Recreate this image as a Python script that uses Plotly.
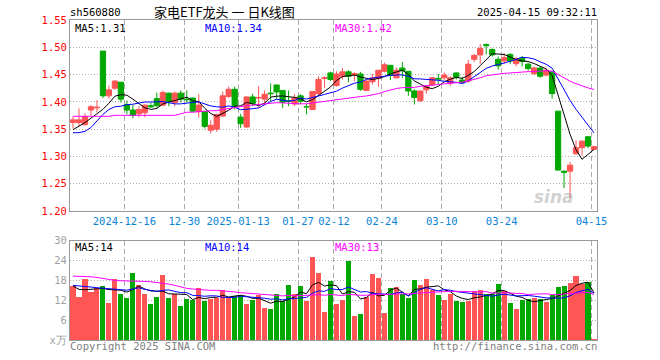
import plotly.graph_objects as go
import pandas as pd

# ---------------- data ----------------
holidays = ["2025-01-01", "2025-01-28", "2025-01-29", "2025-01-30", "2025-01-31",
            "2025-02-03", "2025-02-04", "2025-04-04"]

opens = [1.362, 1.362, 1.358, 1.385, 1.389, 1.493, 1.411, 1.425, 1.436, 1.395,
         1.385, 1.378, 1.380, 1.393, 1.406, 1.394, 1.416, 1.399, 1.416, 1.405,
         1.407, 1.382, 1.382, 1.348, 1.350, 1.374, 1.410, 1.423, 1.372, 1.354,
         1.409, 1.407, 1.405, 1.416, 1.431, 1.421, 1.402, 1.396, 1.411, 1.391,
         1.386, 1.415, 1.443, 1.453, 1.430, 1.447, 1.455, 1.449, 1.451, 1.421,
         1.437, 1.443, 1.456, 1.467, 1.444, 1.462, 1.456, 1.420, 1.402, 1.422,
         1.431, 1.443, 1.444, 1.434, 1.453, 1.440, 1.438, 1.478, 1.486, 1.505,
         1.496, 1.478, 1.475, 1.487, 1.470, 1.480, 1.469, 1.452, 1.462, 1.449,
         1.455, 1.383, 1.273, 1.273, 1.305, 1.316, 1.336, 1.313]
highs = [1.373, 1.388, 1.379, 1.394, 1.403, 1.493, 1.430, 1.440, 1.436, 1.402,
         1.395, 1.392, 1.395, 1.398, 1.417, 1.421, 1.417, 1.419, 1.421, 1.421,
         1.408, 1.414, 1.383, 1.366, 1.378, 1.419, 1.428, 1.428, 1.378, 1.410,
         1.415, 1.429, 1.421, 1.434, 1.431, 1.421, 1.421, 1.414, 1.414, 1.396,
         1.419, 1.447, 1.447, 1.455, 1.456, 1.462, 1.458, 1.454, 1.455, 1.441,
         1.451, 1.458, 1.472, 1.467, 1.463, 1.473, 1.456, 1.423, 1.420, 1.431,
         1.446, 1.451, 1.454, 1.447, 1.454, 1.446, 1.477, 1.488, 1.506, 1.507,
         1.498, 1.483, 1.489, 1.489, 1.482, 1.484, 1.472, 1.465, 1.464, 1.463,
         1.457, 1.383, 1.274, 1.290, 1.330, 1.329, 1.337, 1.319]
lows = [1.351, 1.355, 1.357, 1.375, 1.381, 1.407, 1.406, 1.422, 1.399, 1.377,
        1.370, 1.372, 1.372, 1.389, 1.389, 1.392, 1.392, 1.392, 1.399, 1.399,
        1.382, 1.371, 1.351, 1.342, 1.345, 1.373, 1.407, 1.386, 1.352, 1.352,
        1.392, 1.389, 1.396, 1.401, 1.405, 1.389, 1.392, 1.392, 1.396, 1.377,
        1.385, 1.413, 1.425, 1.438, 1.428, 1.441, 1.436, 1.438, 1.420, 1.420,
        1.432, 1.428, 1.454, 1.440, 1.443, 1.444, 1.411, 1.395, 1.400, 1.415,
        1.429, 1.432, 1.439, 1.429, 1.441, 1.433, 1.435, 1.473, 1.470, 1.487,
        1.483, 1.459, 1.469, 1.469, 1.465, 1.465, 1.457, 1.449, 1.444, 1.447,
        1.406, 1.274, 1.242, 1.224, 1.303, 1.301, 1.315, 1.312]
closes = [1.367, 1.367, 1.373, 1.391, 1.390, 1.411, 1.422, 1.438, 1.405, 1.385,
          1.375, 1.386, 1.394, 1.391, 1.393, 1.417, 1.401, 1.416, 1.405, 1.404,
          1.383, 1.394, 1.355, 1.357, 1.377, 1.411, 1.423, 1.392, 1.360, 1.409,
          1.397, 1.408, 1.414, 1.415, 1.418, 1.399, 1.401, 1.408, 1.401, 1.391,
          1.419, 1.441, 1.444, 1.441, 1.451, 1.455, 1.447, 1.452, 1.423, 1.438,
          1.444, 1.458, 1.468, 1.449, 1.458, 1.457, 1.420, 1.408, 1.420, 1.429,
          1.444, 1.442, 1.449, 1.444, 1.445, 1.435, 1.469, 1.485, 1.498, 1.503,
          1.486, 1.466, 1.481, 1.475, 1.479, 1.474, 1.461, 1.462, 1.447, 1.458,
          1.415, 1.275, 1.271, 1.284, 1.316, 1.328, 1.319, 1.318]
volumes = [16.4, 13.0, 18.5, 14.6, 15.6, 16.2, 11.3, 18.3, 13.8, 12.8,
           20.1, 16.5, 13.8, 10.8, 13.1, 19.5, 12.6, 13.8, 10.2, 12.5,
           12.0, 15.8, 11.8, 12.3, 12.6, 15.2, 13.0, 13.3, 13.5, 11.0,
           12.0, 13.5, 9.8, 9.3, 14.0, 11.7, 16.5, 13.8, 16.3, 11.8,
           25.0, 20.1, 8.4, 17.8, 11.0, 12.0, 24.0, 7.2, 7.8, 13.0,
           19.9, 18.7, 8.1, 15.7, 16.0, 13.9, 12.7, 18.1, 16.6, 18.4,
           15.1, 13.6, 12.1, 13.9, 11.8, 11.5, 11.8, 14.8, 15.1, 13.9,
           13.9, 16.9, 14.8, 11.2, 9.4, 12.1, 12.4, 12.7, 12.4, 11.5,
           13.6, 16.0, 16.3, 17.2, 19.3, 16.9, 17.5, 0.3]

# moving-average values before a full window exists
ma5_head = [1.349, 1.355, 1.362, 1.370]
ma10_head = [1.3435, 1.3435, 1.346, 1.353, 1.365, 1.377, 1.386, 1.391, 1.392]
ma30_head = [1.3735, 1.3735, 1.3735, 1.3735, 1.3735, 1.3735, 1.3735, 1.3753, 1.3753, 1.3753,
             1.3753, 1.3753, 1.3753, 1.3753, 1.3753, 1.3753, 1.3753, 1.3753, 1.378, 1.381,
             1.381, 1.3814, 1.383, 1.3838, 1.3838, 1.386, 1.388, 1.390, 1.392]
vma5_head = [16.3, 15.3, 15.2, 15.3]
vma10_head = [16.5, 16.4, 16.3, 16.0, 15.8, 15.7, 15.6, 15.4, 15.2]
vma30_head = [19.3, 19.3, 19.2, 19.1, 18.9, 18.6, 18.2, 18.0, 17.9, 17.9,
              17.9, 17.8, 17.7, 17.6, 17.4, 17.2, 16.9, 16.5, 16.0, 15.6,
              15.4, 15.2, 15.1, 15.0, 15.0, 14.9, 14.7, 14.5, 14.3]

tick_dates = ["2024-12-16", "2024-12-30", "2025-01-13", "2025-01-27", "2025-02-12",
              "2025-02-24", "2025-03-10", "2025-03-24", "2025-04-15"]
tick_labels = ["2024-12-16", "12-30", "2025-01-13", "01-27", "02-12",
               "02-24", "03-10", "03-24", "04-15"]
price_ticks = [1.20, 1.25, 1.30, 1.35, 1.40, 1.45, 1.50, 1.55]
vol_ticks = [0, 6, 12, 18, 24, 30]
vol_tick_text = ["x万", "6", "12", "18", "24", "30"]

# ---------------- derived ----------------
dates = [d.strftime("%Y-%m-%d") for d in pd.bdate_range("2024-12-03", "2025-04-15")
         if d.strftime("%Y-%m-%d") not in holidays]
n = len(closes)
idx = list(range(n))


def moving_avg(vals, w, head):
    out = []
    for i in range(len(vals)):
        if i < w - 1:
            out.append(head[i])
        else:
            out.append(sum(vals[i - w + 1:i + 1]) / w)
    return out


ma5 = moving_avg(closes, 5, ma5_head)
ma10 = moving_avg(closes, 10, ma10_head)
ma30 = moving_avg(closes, 30, ma30_head)
vma5 = moving_avg(volumes, 5, vma5_head)
vma10 = moving_avg(volumes, 10, vma10_head)
vma30 = moving_avg(volumes, 30, vma30_head)

RED = "#ff5555"
GREEN = "#00a800"
MONO = "DejaVu Sans Mono"
W, H = 660, 360
L, R = 70, 597
MT, MB = 20, 211
VT, VB = 240.7, 340


def px(x):
    return x / W


def py(y):
    return 1 - y / H


tickvals = [dates.index(d) - 0.42 for d in tick_dates]

fig = go.Figure()
fig.add_trace(go.Candlestick(
    x=idx, open=opens, high=highs, low=lows, close=closes,
    increasing=dict(line=dict(color=RED, width=1), fillcolor=RED),
    decreasing=dict(line=dict(color=GREEN, width=1), fillcolor=GREEN),
    whiskerwidth=0, xaxis="x", yaxis="y", hoverinfo="skip"))
for vals, col in [(ma5, "black"), (ma10, "#0000ff"), (ma30, "#ff00ff")]:
    fig.add_trace(go.Scatter(x=idx, y=vals, mode="lines", line=dict(color=col, width=1),
                             xaxis="x", yaxis="y", hoverinfo="skip"))

vcolors = [RED if c >= o else GREEN for o, c in zip(opens, closes)]
fig.add_trace(go.Bar(x=idx, y=volumes, marker=dict(color=vcolors, line=dict(width=0)),
                     width=0.85, xaxis="x2", yaxis="y2", hoverinfo="skip"))
for vals, col in [(vma5, "black"), (vma10, "#0000ff"), (vma30, "#ff00ff")]:
    fig.add_trace(go.Scatter(x=idx, y=vals, mode="lines", line=dict(color=col, width=1),
                             xaxis="x2", yaxis="y2", hoverinfo="skip"))

FRAME = "#999999"
common_x = dict(range=[-0.5, n - 0.5], tickvals=tickvals, showgrid=True, gridcolor="#aaaaaa",
                griddash="5px,3px", gridwidth=1, showline=True, mirror=True, linecolor=FRAME,
                linewidth=1, zeroline=False, ticks="", fixedrange=True)
fig.update_layout(
    width=W, height=H, margin=dict(l=0, r=0, t=0, b=0, autoexpand=False),
    paper_bgcolor="white", plot_bgcolor="white", showlegend=False,
    boxgap=0.12, boxgroupgap=0, bargap=0,
    xaxis=dict(domain=[px(L), px(R)], anchor="y", ticktext=tick_labels,
               tickfont=dict(family=MONO, size=10.5, color="#0a84d6"),
               rangeslider=dict(visible=False), **common_x),
    yaxis=dict(domain=[py(MB), py(MT)], range=[1.20, 1.55], tickvals=price_ticks,
               ticktext=["%.2f" % v for v in price_ticks],
               tickfont=dict(family=MONO, size=10.5, color="#ff0000"),
               showgrid=True, gridcolor="#b0b0b0", griddash="1px,2px", gridwidth=1,
               showline=True, mirror=True, linecolor=FRAME, linewidth=1, zeroline=False,
               ticks="", anchor="x", fixedrange=True),
    xaxis2=dict(domain=[px(L), px(R)], anchor="y2", showticklabels=False, **common_x),
    yaxis2=dict(domain=[py(VB), py(VT)], range=[0, 30], tickvals=vol_ticks,
                ticktext=vol_tick_text,
                tickfont=dict(family=MONO, size=10.5, color="#a0a0a0"),
                showgrid=True, gridcolor="#b0b0b0", griddash="1px,2px", gridwidth=1,
                showline=True, mirror=True, linecolor=FRAME, linewidth=1, zeroline=False,
                ticks="", anchor="x2", fixedrange=True),
)


def note(text, x, y, anchor="left", color="black", size=10.5, family=MONO):
    fig.add_annotation(text=text, x=px(x), y=py(y), xref="paper", yref="paper",
                       xanchor=anchor, yanchor="middle", showarrow=False, borderpad=0,
                       font=dict(family=family, size=size, color=color))


note("sh560880", 69, 12.5)
note("家电ETF龙头 一 日K线图", 224, 11.5, anchor="center", size=13,
     family="Noto Sans CJK SC")
note(f"{dates[-1]} 09:32:11", 598, 12.5, anchor="right")

note(f"MA5:{ma5[-1]:.2f}", 74, 28)
note(f"MA10:{ma10[-1]:.2f}", 204, 28, color="#0000ff")
note(f"MA30:{ma30[-1]:.2f}", 334, 28, color="#ff00ff")
note(f"MA5:{int(vma5[-1])}", 74, 247)
note(f"MA10:{int(vma10[-1])}", 204, 247, color="#0000ff")
note(f"MA30:{int(vma30[-1])}", 334, 247, color="#ff00ff")

note("Copyright 2025 SINA.COM", 69, 346, color="#808080")
note("http://finance.sina.com.cn", 598, 346, anchor="right", color="#808080")

fig.add_annotation(text="<b><i>sina</i></b>", x=px(576), y=py(197), xref="paper",
                   yref="paper", showarrow=False,
                   font=dict(family="DejaVu Sans", size=17, color="rgba(150,150,150,0.45)"))

fig.write_html("out.html", config={"displayModeBar": False, "staticPlot": True},
               post_script="document.body.style.margin='0px';"
                           "document.body.style.overflow='hidden';")
